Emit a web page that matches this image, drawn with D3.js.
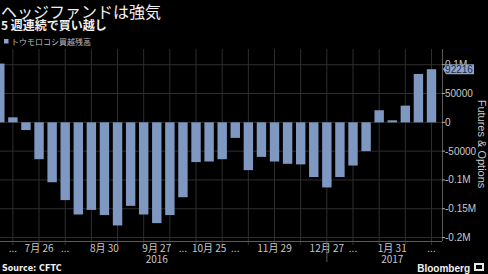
<!DOCTYPE html>
<html lang="ja">
<head>
<meta charset="utf-8">
<script src="https://d3js.org/d3.v7.min.js"></script>
<style>
  body { margin: 0; background: #000; }
  svg { display: block; font-family: 'Noto Sans CJK JP', 'Noto Sans', sans-serif; }
</style>
</head>
<body>
<div id="chart"></div>
<script>

/* Data */
/* ==== */

// weekly CFTC reports, Tuesdays, 2016-07-05 .. 2017-02-21
var weeks = d3.range(34).map(function(i) { return d3.timeWeek.offset(new Date(2016, 6, 5), i); });

// トウモロコシ買越残高 (contracts)
var netLong = [102000, 8700, -13400, -64000, -104000, -135000, -160000, -152000, -161000, -179000,
               -145000, -160000, -175000, -161000, -130000, -69000, -68000, -64000, -27000, -83000,
               -60000, -68000, -72000, -73000, -95000, -113000, -95000, -75000, -50000, 21000,
               3500, 29000, 84000, 92216];

var yTicks = [-200000, -150000, -100000, -50000, 0, 50000, 100000];
var yTickLabels = ['-0.2M', '-0.15M', '-0.1M', '-50000', '0', '50000', '0.1M'];

var xTickDates = [[2016,6,12], [2016,6,26], [2016,7,9], [2016,7,30], [2016,8,27], [2016,9,11], [2016,9,25],
                  [2016,10,8], [2016,10,29], [2016,11,27], [2017,0,10], [2017,0,31], [2017,1,21]];
var xTickLabels = ['...', '7月 26', '...', '8月 30', '9月 27', '...', '10月 25',
                   '...', '11月 29', '12月 27', '...', '1月 31', '...'];

var years = [[2016, new Date(2016, 8, 27)], [2017, new Date(2017, 0, 31)]];


/* Set up */
/* ====== */

var width = 488, height = 274;
var plot = { left: 0, right: 442, top: 49, bottom: 241 };

var svg = d3.select('#chart').append('svg')
  .attr('width', width)
  .attr('height', height);

svg.append('rect').attr('width', width).attr('height', height).attr('fill', '#000');

var x = d3.scaleTime()
  .domain([weeks[0], weeks[33]])
  .range([-0.2, 431.5]);

var y = d3.scaleLinear()
  .domain([-206000, 127300])
  .range([plot.bottom, plot.top]);

var barWidth = 9.4;


/* Grid */
/* ==== */

var grid = svg.append('g');

grid.selectAll('line.h')
  .data(yTicks)
  .enter().append('line')
  .attr('x1', plot.left).attr('x2', plot.right)
  .attr('y1', function(d) { return y(d); })
  .attr('y2', function(d) { return y(d); })
  .attr('stroke', '#2e2e2e')
  .attr('stroke-width', 1);

var gridWeeks = weeks.filter(function(d, i) { return i % 2 === 1; });

grid.selectAll('line.v')
  .data(gridWeeks)
  .enter().append('line')
  .attr('x1', function(d) { return x(d); })
  .attr('x2', function(d) { return x(d); })
  .attr('y1', plot.top).attr('y2', plot.bottom + 4)
  .attr('stroke', '#2e2e2e')
  .attr('stroke-width', 1);


/* Bars */
/* ==== */

svg.append('clipPath').attr('id', 'clip')
  .append('rect')
  .attr('x', plot.left).attr('y', plot.top)
  .attr('width', plot.right - plot.left).attr('height', plot.bottom - plot.top);

svg.append('g')
  .attr('clip-path', 'url(#clip)')
  .selectAll('rect')
  .data(netLong)
  .enter().append('rect')
  .attr('x', function(d, i) { return x(weeks[i]) - barWidth / 2; })
  .attr('width', barWidth)
  .attr('y', function(d) { return y(Math.max(0, d)); })
  .attr('height', function(d) { return Math.abs(y(d) - y(0)); })
  .attr('fill', '#7f98c1');


/* Axes */
/* ==== */

// bottom
svg.append('line')
  .attr('x1', plot.left).attr('x2', plot.right)
  .attr('y1', plot.bottom + 0.5).attr('y2', plot.bottom + 0.5)
  .attr('stroke', '#5a5a5a');

svg.selectAll('text.xtick')
  .data(xTickDates)
  .enter().append('text')
  .attr('x', function(d) { return x(new Date(d[0], d[1], d[2])); })
  .attr('y', 252)
  .attr('text-anchor', 'middle')
  .attr('fill', '#c8c8c8')
  .style('font-size', '10px')
  .text(function(d, i) { return xTickLabels[i]; });

svg.selectAll('text.year')
  .data(years)
  .enter().append('text')
  .attr('x', function(d) { return x(d[1]); })
  .attr('y', 263)
  .attr('text-anchor', 'middle')
  .attr('fill', '#c8c8c8')
  .style('font-size', '10px')
  .text(function(d) { return d[0]; });

// year separator
svg.append('line')
  .attr('x1', x(new Date(2016, 11, 27))).attr('x2', x(new Date(2016, 11, 27)))
  .attr('y1', plot.bottom).attr('y2', 262)
  .attr('stroke', '#5a5a5a');

// right
svg.append('line')
  .attr('x1', plot.right + 0.5).attr('x2', plot.right + 0.5)
  .attr('y1', plot.top).attr('y2', plot.bottom)
  .attr('stroke', '#5a5a5a');

svg.selectAll('line.ytick')
  .data(yTicks)
  .enter().append('line')
  .attr('x1', plot.right).attr('x2', plot.right + 3)
  .attr('y1', function(d) { return y(d); })
  .attr('y2', function(d) { return y(d); })
  .attr('stroke', '#aaa');

svg.selectAll('text.ytick')
  .data(yTicks)
  .enter().append('text')
  .attr('x', 445)
  .attr('y', function(d) { return y(d) + 3.5; })
  .attr('fill', '#c8c8c8')
  .style('font-size', '10px')
  .style('font-family', "'Liberation Sans', sans-serif")
  .text(function(d, i) { return yTickLabels[i]; });

svg.append('text')
  .attr('transform', 'translate(478,144) rotate(90)')
  .attr('text-anchor', 'middle')
  .attr('fill', '#c8c8c8')
  .style('font-size', '11px')
  .style('font-family', "'Liberation Sans', sans-serif")
  .text('Futures & Options');

// last value label
var last = netLong[netLong.length - 1];
var ly = y(last);
svg.append('path')
  .attr('d', 'M' + (plot.right + 1) + ',' + ly + 'L' + (plot.right + 4) + ',' + (ly - 5) +
             'H474V' + (ly + 5) + 'H' + (plot.right + 4) + 'Z')
  .attr('fill', '#8ea4c8');

svg.append('text')
  .attr('x', 459)
  .attr('y', ly + 4)
  .attr('text-anchor', 'middle')
  .attr('fill', '#1b2d52')
  .style('font-size', '10px')
  .style('font-family', "'Liberation Sans', sans-serif")
  .text(d3.format('d')(last));


/* Titles */
/* ====== */

svg.append('text')
  .attr('x', 1).attr('y', 18)
  .attr('fill', '#f0f0f0')
  .style('font-size', '16px')
  .text('ヘッジファンドは強気');

svg.append('text')
  .attr('x', 1).attr('y', 30)
  .attr('fill', '#f0f0f0')
  .style('font-size', '12px')
  .style('font-weight', 'bold')
  .text('5 週連続で買い越し');

svg.append('rect')
  .attr('x', 4).attr('y', 39).attr('width', 4.5).attr('height', 4.5)
  .attr('fill', '#8ea4c8');

svg.append('text')
  .attr('x', 11).attr('y', 45)
  .attr('fill', '#bdbdbd')
  .style('font-size', '8px')
  .text('トウモロコシ買越残高');

svg.append('text')
  .attr('x', 2).attr('y', 271)
  .attr('fill', '#f0f0f0')
  .style('font-size', '8px')
  .style('font-weight', 'bold')
  .style('font-family', "'DejaVu Sans', sans-serif")
  .text('Source: CFTC');

svg.append('text')
  .attr('x', 470).attr('y', 272)
  .attr('text-anchor', 'end')
  .attr('fill', '#f0f0f0')
  .style('font-size', '10px')
  .style('font-weight', 'bold')
  .style('font-family', "'Liberation Sans', sans-serif")
  .text('Bloomberg');

// small terminal icon
svg.append('rect')
  .attr('x', 474).attr('y', 263).attr('width', 10).attr('height', 8)
  .attr('fill', '#e8e8e8');
svg.append('rect')
  .attr('x', 476).attr('y', 265).attr('width', 6).attr('height', 4)
  .attr('fill', '#000');

</script>
</body>
</html>
